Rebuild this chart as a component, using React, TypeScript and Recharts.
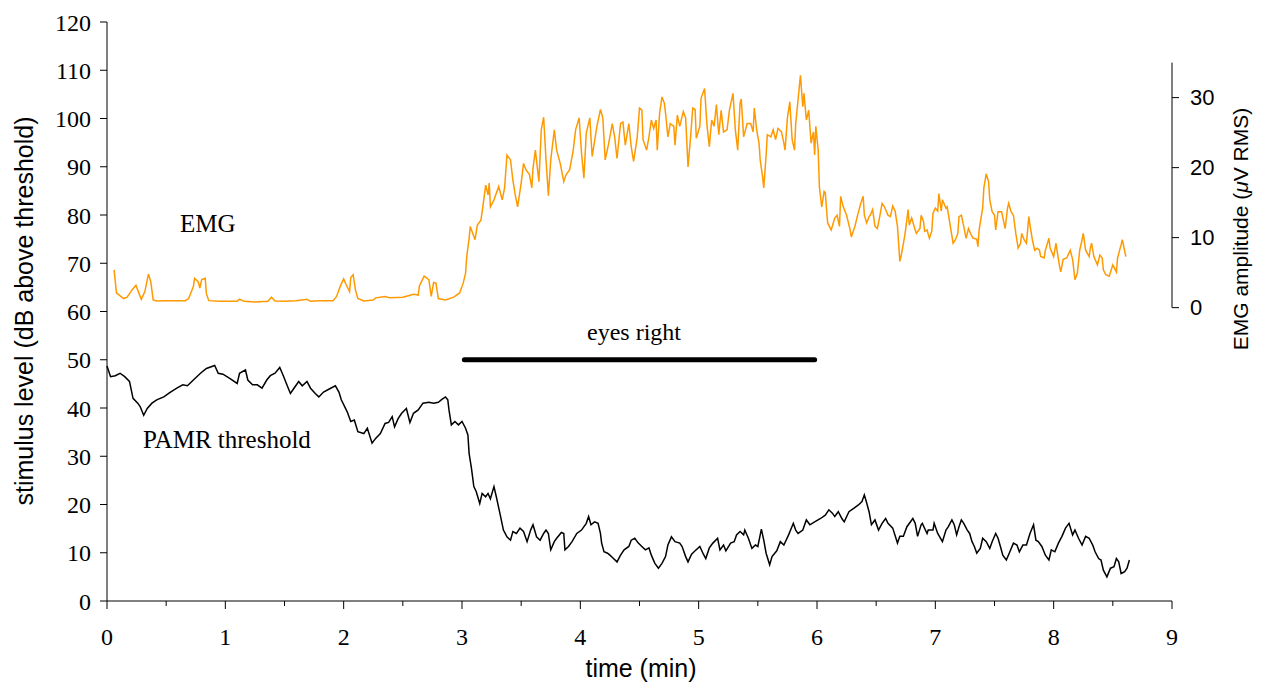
import { Line, LineChart, ReferenceLine, XAxis, YAxis } from "recharts";

const W = 1262;
const H = 688;

// EMG amplitude (µV RMS), right axis
const emgTime = [
  0.06, 0.08, 0.14, 0.17, 0.21, 0.245, 0.26, 0.29, 0.32, 0.35, 0.37, 0.39, 0.42, 0.5, 0.6, 0.66, 0.69, 0.73, 0.74,
  0.77, 0.785, 0.8, 0.83, 0.84, 0.86, 0.95, 1.05, 1.1, 1.12, 1.16, 1.25, 1.36, 1.39, 1.42, 1.5, 1.6, 1.69, 1.72,
  1.8, 1.91, 1.94, 1.97, 2.0, 2.02, 2.05, 2.06, 2.08, 2.1, 2.12, 2.17, 2.25, 2.27, 2.35, 2.39, 2.5, 2.59, 2.63,
  2.64, 2.68, 2.72, 2.74, 2.76, 2.78, 2.8, 2.86, 2.93, 2.98, 3.01, 3.03, 3.04, 3.06, 3.07, 3.11, 3.13, 3.16, 3.18,
  3.2, 3.22, 3.23, 3.24, 3.27, 3.31, 3.34, 3.36, 3.38, 3.41, 3.43, 3.45, 3.47, 3.5, 3.52, 3.54, 3.57, 3.59, 3.6,
  3.62, 3.65, 3.67, 3.69, 3.71, 3.73, 3.75, 3.78, 3.8, 3.83, 3.86, 3.88, 3.91, 3.94, 3.96, 3.99, 4.01, 4.03, 4.05,
  4.08, 4.1, 4.14, 4.17, 4.19, 4.21, 4.24, 4.27, 4.29, 4.31, 4.34, 4.36, 4.38, 4.41, 4.43, 4.45, 4.48, 4.5, 4.52,
  4.53, 4.56, 4.58, 4.6, 4.62, 4.64, 4.65, 4.67, 4.69, 4.71, 4.72, 4.74, 4.76, 4.79, 4.8, 4.82, 4.84, 4.87, 4.89,
  4.91, 4.93, 4.95, 4.97, 4.98, 5.01, 5.02, 5.05, 5.07, 5.09, 5.11, 5.13, 5.15, 5.17, 5.19, 5.21, 5.24, 5.26, 5.29,
  5.31, 5.33, 5.35, 5.36, 5.38, 5.41, 5.44, 5.46, 5.47, 5.49, 5.51, 5.52, 5.54, 5.55, 5.57, 5.58, 5.61, 5.63, 5.65,
  5.67, 5.7, 5.72, 5.73, 5.75, 5.77, 5.79, 5.81, 5.82, 5.84, 5.86, 5.88, 5.89, 5.91, 5.93, 5.95, 5.97, 5.98, 5.99,
  6.01, 6.02, 6.04, 6.06, 6.07, 6.09, 6.12, 6.15, 6.17, 6.19, 6.2, 6.22, 6.25, 6.28, 6.29, 6.32, 6.34, 6.37, 6.39,
  6.4, 6.42, 6.44, 6.45, 6.47, 6.49, 6.51, 6.53, 6.55, 6.57, 6.6, 6.62, 6.64, 6.66, 6.68, 6.7, 6.71, 6.74, 6.75,
  6.77, 6.78, 6.8, 6.83, 6.84, 6.87, 6.88, 6.9, 6.91, 6.93, 6.95, 6.97, 6.98, 7.0, 7.02, 7.03, 7.05, 7.06, 7.09,
  7.1, 7.13, 7.15, 7.17, 7.19, 7.2, 7.22, 7.24, 7.26, 7.28, 7.3, 7.32, 7.35, 7.36, 7.37, 7.4, 7.41, 7.43, 7.45,
  7.46, 7.48, 7.5, 7.51, 7.53, 7.56, 7.58, 7.59, 7.61, 7.62, 7.64, 7.66, 7.68, 7.7, 7.72, 7.73, 7.75, 7.77, 7.79,
  7.8, 7.82, 7.84, 7.86, 7.88, 7.89, 7.92, 7.93, 7.96, 7.97, 8.0, 8.02, 8.03, 8.05, 8.06, 8.08, 8.11, 8.14, 8.16,
  8.18, 8.2, 8.22, 8.24, 8.25, 8.27, 8.3, 8.31, 8.32, 8.34, 8.37, 8.39, 8.41, 8.42, 8.44, 8.47, 8.49, 8.5, 8.53,
  8.54, 8.57, 8.58, 8.61,
];
const emgAmp = [
  5.4, 2.1, 1.3, 1.5, 2.5, 3.2, 2.5, 1.2, 2.3, 4.8, 3.7, 1.1, 0.95, 1.0, 1.0, 1.0, 1.3, 3.0, 4.2,
  3.7, 2.8, 4.0, 4.2, 2.0, 1.0, 0.9, 0.9, 0.9, 1.2, 0.9, 0.8, 0.9, 1.5, 0.95, 0.9, 1.0, 1.2, 0.9,
  1.0, 1.0, 1.6, 3.0, 4.1, 3.3, 2.3, 4.3, 4.7, 2.5, 1.3, 0.95, 1.1, 1.4, 1.6, 1.4, 1.5, 1.9, 1.8,
  3.1, 4.5, 4.0, 1.6, 3.6, 3.5, 1.3, 1.1, 1.5, 2.1, 3.5, 4.9, 7.3, 9.9, 11.6, 9.7, 11.8, 12.5, 14.9,
  17.5, 16.1, 17.8, 14.4, 15.4, 17.3, 15.4, 17.1, 21.8, 21.1, 18.2, 16.1, 14.4, 17.8, 20.6, 19.7, 19.0, 17.1, 19.9,
  22.5, 18.0, 25.4, 27.2, 21.1, 16.0, 21.1, 25.4, 22.5, 20.6, 18.0, 19.0, 19.7, 22.5, 25.4, 27.1, 22.1, 18.5, 24.9,
  27.1, 21.6, 25.9, 28.3, 27.1, 21.1, 23.5, 26.3, 24.4, 21.3, 26.3, 26.5, 23.2, 26.3, 23.0, 20.9, 24.2, 28.5, 28.2,
  24.0, 22.5, 24.4, 26.8, 25.6, 26.8, 22.5, 27.8, 30.1, 29.2, 27.8, 24.4, 26.3, 25.9, 23.2, 27.5, 25.9, 28.0, 27.1,
  20.1, 24.0, 28.5, 28.3, 24.2, 25.9, 29.9, 31.3, 26.1, 23.0, 26.8, 25.9, 29.0, 24.7, 28.2, 25.1, 25.4, 28.2, 30.6,
  25.4, 22.5, 29.2, 29.8, 24.4, 26.3, 26.3, 25.1, 28.5, 25.4, 23.5, 21.1, 18.7, 17.1, 21.8, 24.7, 24.4, 25.4, 24.0,
  25.6, 25.1, 23.5, 22.5, 27.1, 29.4, 24.0, 22.5, 26.3, 29.7, 33.2, 28.7, 30.6, 26.8, 28.2, 23.5, 25.1, 21.8, 25.9,
  22.5, 17.3, 14.4, 16.6, 16.4, 12.1, 11.1, 12.8, 13.2, 11.6, 15.9, 14.5, 13.2, 11.1, 10.1, 11.6, 13.0, 14.9, 15.9,
  13.2, 12.1, 13.0, 13.2, 14.0, 11.6, 11.3, 13.0, 14.9, 14.4, 13.2, 13.0, 14.5, 13.8, 11.6, 6.6, 7.3, 10.1, 11.3,
  14.0, 11.8, 12.8, 11.1, 10.6, 11.3, 13.2, 12.3, 10.9, 11.1, 9.9, 10.9, 13.5, 14.2, 13.8, 16.3, 13.8, 15.4, 14.2,
  14.4, 11.3, 9.2, 9.7, 10.6, 13.0, 13.2, 11.6, 9.9, 11.3, 10.5, 9.9, 9.8, 8.7, 11.1, 14.2, 17.1, 19.1, 18.0,
  15.4, 13.7, 13.2, 11.1, 13.7, 13.7, 12.1, 11.3, 14.2, 14.9, 13.7, 13.2, 10.6, 8.5, 9.2, 10.6, 9.7, 9.2, 13.0,
  11.8, 9.7, 8.2, 8.5, 8.2, 7.3, 7.1, 8.2, 9.9, 8.5, 7.3, 9.2, 8.0, 5.9, 5.1, 6.9, 7.1, 8.2, 6.9,
  4.0, 4.9, 8.2, 9.7, 10.6, 8.2, 7.3, 8.5, 9.2, 7.3, 6.1, 7.5, 7.1, 5.4, 4.7, 4.5, 5.6, 6.1, 5.1,
  7.1, 9.0, 9.7, 7.3,
];

// PAMR threshold (dB above threshold), left axis
const pamrTime = [
  0.0, 0.03, 0.07, 0.11, 0.15, 0.19, 0.22, 0.26, 0.28, 0.31, 0.34, 0.38, 0.42, 0.48, 0.53, 0.59, 0.64, 0.68, 0.73,
  0.79, 0.84, 0.91, 0.94, 0.98, 1.04, 1.1, 1.12, 1.17, 1.19, 1.23, 1.27, 1.31, 1.35, 1.38, 1.42, 1.46, 1.49, 1.52,
  1.55, 1.58, 1.62, 1.65, 1.69, 1.72, 1.76, 1.79, 1.83, 1.89, 1.93, 1.96, 1.98, 2.03, 2.06, 2.09, 2.12, 2.17, 2.2,
  2.24, 2.27, 2.31, 2.35, 2.38, 2.41, 2.43, 2.46, 2.49, 2.53, 2.56, 2.59, 2.63, 2.67, 2.72, 2.76, 2.8, 2.83, 2.86,
  2.88, 2.89, 2.91, 2.94, 2.97, 3.0, 3.03, 3.05, 3.06, 3.08, 3.1, 3.12, 3.15, 3.17, 3.2, 3.22, 3.24, 3.27, 3.29,
  3.32, 3.35, 3.38, 3.41, 3.43, 3.46, 3.49, 3.52, 3.55, 3.58, 3.6, 3.63, 3.66, 3.69, 3.71, 3.73, 3.75, 3.78, 3.8,
  3.84, 3.86, 3.87, 3.9, 3.93, 3.97, 4.01, 4.05, 4.07, 4.09, 4.12, 4.15, 4.17, 4.18, 4.2, 4.23, 4.25, 4.28, 4.31,
  4.34, 4.37, 4.41, 4.43, 4.46, 4.49, 4.52, 4.55, 4.58, 4.6, 4.63, 4.66, 4.69, 4.72, 4.74, 4.77, 4.8, 4.84, 4.86,
  4.89, 4.91, 4.94, 4.97, 5.01, 5.04, 5.06, 5.09, 5.12, 5.16, 5.18, 5.21, 5.23, 5.27, 5.3, 5.32, 5.35, 5.38, 5.39,
  5.42, 5.45, 5.48, 5.5, 5.53, 5.55, 5.57, 5.6, 5.62, 5.66, 5.69, 5.72, 5.76, 5.8, 5.82, 5.84, 5.88, 5.91, 5.94,
  5.98, 6.03, 6.07, 6.1, 6.13, 6.15, 6.18, 6.21, 6.23, 6.27, 6.31, 6.35, 6.38, 6.4, 6.42, 6.44, 6.46, 6.49, 6.52,
  6.55, 6.58, 6.6, 6.64, 6.68, 6.7, 6.73, 6.76, 6.81, 6.83, 6.85, 6.88, 6.89, 6.93, 6.94, 6.98, 6.99, 7.02, 7.06,
  7.09, 7.11, 7.14, 7.16, 7.18, 7.2, 7.22, 7.24, 7.27, 7.29, 7.31, 7.33, 7.35, 7.38, 7.4, 7.43, 7.46, 7.48, 7.51,
  7.53, 7.55, 7.57, 7.6, 7.63, 7.66, 7.69, 7.71, 7.74, 7.77, 7.8, 7.83, 7.85, 7.87, 7.9, 7.93, 7.96, 7.98, 8.01,
  8.04, 8.07, 8.1, 8.13, 8.16, 8.18, 8.21, 8.24, 8.27, 8.3, 8.33, 8.35, 8.38, 8.4, 8.42, 8.45, 8.48, 8.51, 8.53,
  8.55, 8.57, 8.6, 8.62, 8.64,
];
const pamrLevel = [
  48.7, 46.5, 46.7, 47.2, 46.5, 45.5, 42.0, 41.0, 40.3, 38.5, 39.9, 41.0, 41.7, 42.3, 43.2, 44.1, 44.8, 44.6, 45.8,
  47.2, 48.2, 48.8, 47.2, 47.0, 46.1, 45.1, 47.2, 47.9, 45.8, 44.8, 44.8, 44.1, 45.8, 46.7, 47.2, 48.4, 46.7, 44.8,
  43.0, 44.1, 45.5, 44.6, 45.5, 44.1, 43.0, 42.3, 43.3, 44.1, 44.6, 43.3, 41.7, 39.2, 37.2, 37.5, 35.1, 34.7, 35.8,
  32.7, 33.7, 34.7, 36.8, 37.0, 38.2, 36.1, 37.8, 38.9, 39.9, 37.0, 38.9, 39.6, 41.0, 41.2, 41.0, 41.2, 41.8, 42.3,
  41.7, 39.6, 36.5, 37.2, 36.5, 37.2, 35.8, 34.4, 30.6, 27.5, 23.7, 22.7, 20.2, 22.3, 21.6, 22.3, 21.2, 23.7, 21.6,
  18.2, 14.7, 13.3, 12.6, 14.4, 14.0, 15.1, 14.4, 12.3, 14.7, 15.8, 13.3, 12.6, 14.0, 14.7, 14.0, 10.6, 12.3, 13.0,
  14.2, 14.0, 10.6, 11.3, 12.3, 14.0, 14.7, 16.1, 17.5, 15.8, 16.4, 16.1, 14.0, 12.0, 10.2, 9.9, 9.5, 8.8, 8.1,
  9.5, 10.6, 11.3, 12.6, 13.0, 12.0, 11.3, 10.6, 11.0, 9.5, 7.8, 6.8, 7.8, 9.2, 11.6, 13.3, 12.3, 12.0, 11.3,
  9.2, 8.1, 9.7, 10.4, 11.3, 9.7, 8.8, 11.0, 12.0, 13.0, 10.6, 11.6, 10.4, 12.0, 12.3, 13.7, 14.4, 13.7, 14.7,
  13.0, 10.9, 11.6, 11.3, 14.9, 12.6, 9.9, 7.5, 9.2, 10.4, 12.3, 11.6, 13.7, 16.1, 14.7, 14.0, 14.7, 16.8, 15.8,
  16.4, 17.1, 17.8, 18.9, 18.2, 17.5, 18.5, 17.1, 16.4, 18.5, 19.2, 19.9, 20.6, 22.0, 20.3, 18.5, 15.8, 16.8, 14.7,
  16.1, 17.1, 16.1, 15.1, 12.0, 13.4, 13.4, 15.4, 17.1, 16.1, 13.4, 15.8, 16.1, 14.0, 14.7, 14.7, 16.1, 14.0, 12.3,
  14.7, 15.4, 16.8, 15.8, 13.7, 15.4, 16.8, 16.1, 14.7, 14.0, 12.3, 11.3, 9.9, 10.9, 13.0, 12.3, 10.9, 12.3, 14.0,
  13.0, 11.3, 9.5, 8.5, 10.2, 12.0, 11.6, 10.2, 11.6, 11.6, 14.0, 15.8, 12.6, 12.3, 11.3, 9.5, 8.5, 10.6, 10.2,
  12.0, 13.4, 15.1, 16.1, 13.7, 14.7, 13.0, 11.6, 13.4, 13.0, 11.6, 10.2, 8.8, 8.5, 6.4, 5.0, 6.8, 7.1, 8.8,
  8.1, 5.7, 6.1, 6.8, 8.5,
];

const timeTicks = [0, 0.5, 1, 1.5, 2, 2.5, 3, 3.5, 4, 4.5, 5, 5.5, 6, 6.5, 7, 7.5, 8, 8.5, 9];
const levelTicks = [0, 10, 20, 30, 40, 50, 60, 70, 80, 90, 100, 110, 120];
const emgTicks = [0, 10, 20, 30];
const emgAxisTop = 35;
const emgDomain = [-41.9, 40.8];
const eyesRight = { start: 3.02, end: 5.98, level: 50 };

const emgData = emgTime.map((t, i) => ({ t, v: emgAmp[i] }));
const pamrData = pamrTime.map((t, i) => ({ t, v: pamrLevel[i] }));

const SERIF = "'Liberation Serif', 'Times New Roman', serif";
const SANS = "'Liberation Sans', Arial, sans-serif";

function TimeTick(props: any) {
  const { x, y, payload } = props;
  const major = Number.isInteger(payload.value);
  return (
    <g>
      <line x1={x} x2={x} y1={y} y2={y + (major ? 8 : 5)} stroke="#000" strokeWidth={1} />
      {major && (
        <text x={x} y={y + 44} textAnchor="middle" fontFamily={SERIF} fontSize={24} fill="#000">
          {payload.value}
        </text>
      )}
    </g>
  );
}

export default function App() {
  return (
    <div style={{ position: "absolute", left: 0, top: 0, width: W, height: H, background: "#fff" }}>
      <LineChart width={W} height={H} margin={{ top: 22, right: 30, bottom: 47, left: 47 }}>
        <XAxis
          dataKey="t"
          type="number"
          domain={[0, 9]}
          ticks={timeTicks}
          interval={0}
          height={40}
          tickSize={0}
          tickMargin={0}
          tickLine={false}
          axisLine={{ stroke: "#000" }}
          tick={<TimeTick />}
          allowDuplicatedCategory={false}
        />
        <YAxis
          yAxisId="left"
          type="number"
          domain={[0, 120]}
          ticks={levelTicks}
          interval={0}
          width={60}
          tickSize={7}
          tickMargin={9}
          axisLine={{ stroke: "#000" }}
          tickLine={{ stroke: "#000" }}
          tick={{ fontFamily: SERIF, fontSize: 24, fill: "#000" }}
        />
        <YAxis
          yAxisId="emg"
          orientation="right"
          type="number"
          domain={emgDomain}
          ticks={emgTicks}
          interval={0}
          width={60}
          tickSize={7}
          tickMargin={11}
          axisLine={false}
          tickLine={{ stroke: "#000" }}
          tick={{ fontFamily: SANS, fontSize: 22, fill: "#000", textAnchor: "start" }}
          allowDataOverflow
        />
        <ReferenceLine
          yAxisId="emg"
          segment={[
            { x: 9, y: 0 },
            { x: 9, y: emgAxisTop },
          ]}
          stroke="#000"
          strokeWidth={1}
          ifOverflow="visible"
        />
        <ReferenceLine
          yAxisId="left"
          segment={[
            { x: eyesRight.start, y: eyesRight.level },
            { x: eyesRight.end, y: eyesRight.level },
          ]}
          stroke="#000"
          strokeWidth={5}
          strokeLinecap="round"
        />
        <Line
          data={emgData}
          yAxisId="emg"
          dataKey="v"
          type="linear"
          stroke="#FF9900"
          strokeWidth={1.5}
          dot={false}
          isAnimationActive={false}
        />
        <Line
          data={pamrData}
          yAxisId="left"
          dataKey="v"
          type="linear"
          stroke="#000"
          strokeWidth={1.5}
          dot={false}
          isAnimationActive={false}
        />
      </LineChart>
      <svg
        width={W}
        height={H}
        style={{ position: "absolute", left: 0, top: 0, pointerEvents: "none" }}
      >
        <text x={180} y={232} fontFamily={SERIF} fontSize={25} fill="#000">
          EMG
        </text>
        <text x={143} y={448} fontFamily={SERIF} fontSize={25} fill="#000">
          PAMR threshold
        </text>
        <text x={587} y={340} fontFamily={SERIF} fontSize={24} fill="#000">
          eyes right
        </text>
        <text x={641} y={677} textAnchor="middle" fontFamily={SANS} fontSize={25} fill="#000">
          time (min)
        </text>
        <text
          transform="translate(33,311) rotate(-90)"
          textAnchor="middle"
          fontFamily={SANS}
          fontSize={25}
          fill="#000"
        >
          stimulus level (dB above threshold)
        </text>
        <text
          transform="translate(1248,229) rotate(-90)"
          textAnchor="middle"
          fontFamily={SANS}
          fontSize={21}
          fill="#000"
        >
          EMG amplitude (<tspan fontStyle="italic">μ</tspan>V RMS)
        </text>
      </svg>
    </div>
  );
}
